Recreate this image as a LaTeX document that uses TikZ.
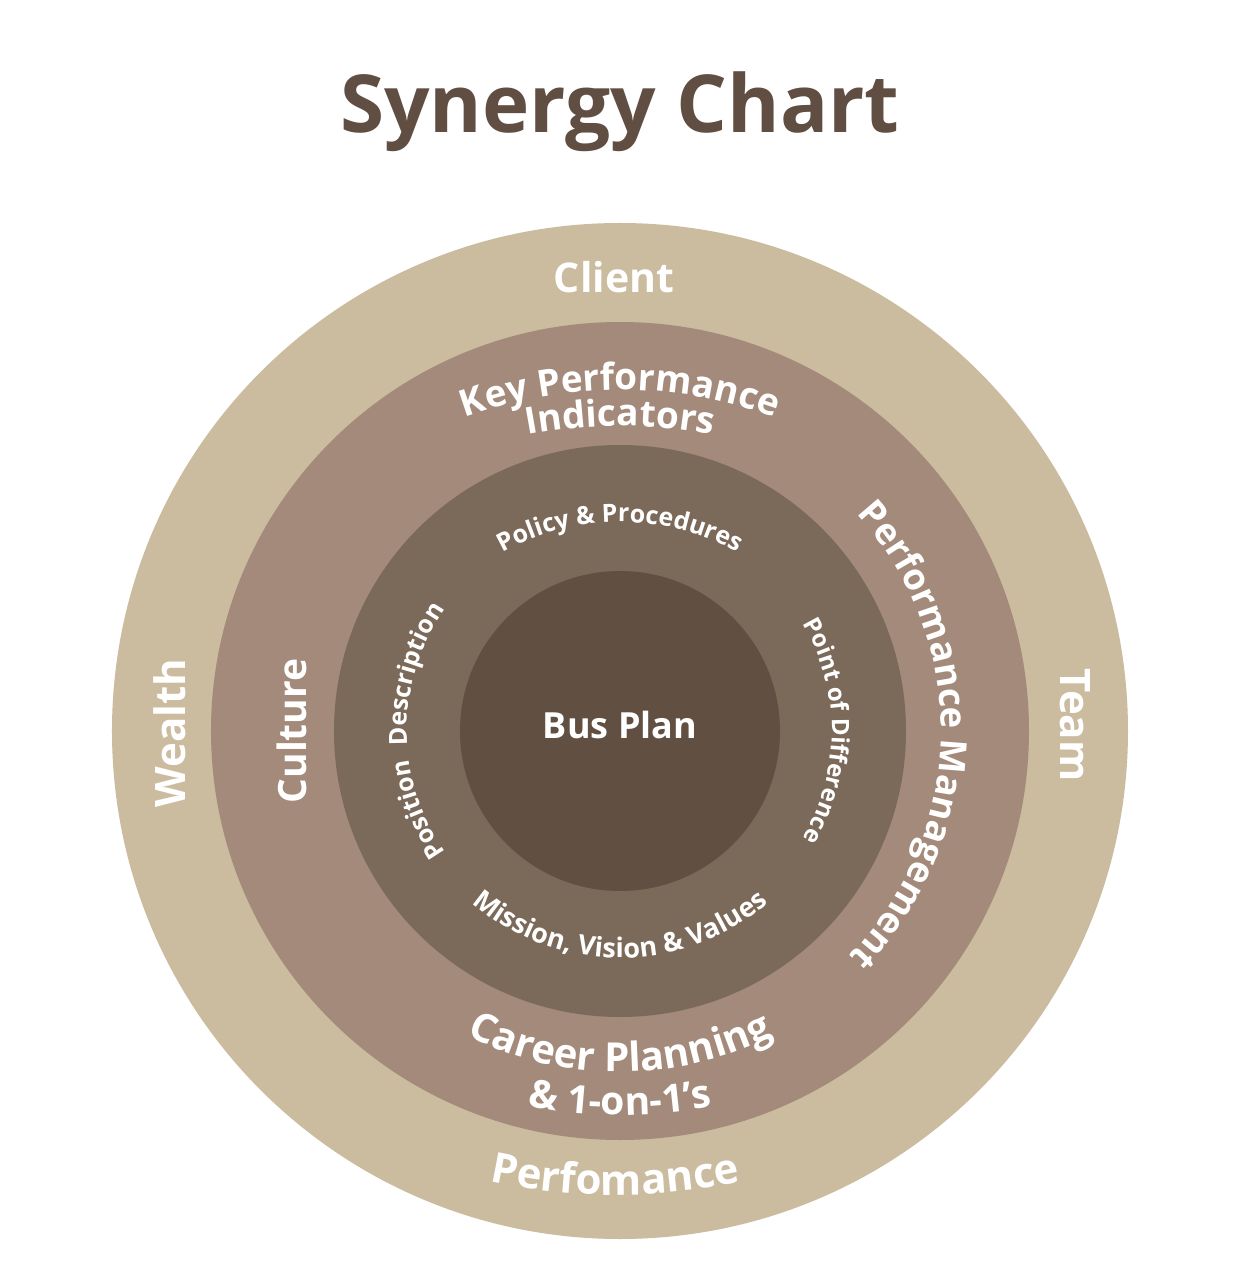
\documentclass[tikz,border=0pt]{standalone}
\usepackage{fontspec}
\setmainfont{Open Sans}
\usetikzlibrary{decorations.text}
\definecolor{ringA}{HTML}{CBBB9F}
\definecolor{ringB}{HTML}{A38A7A}
\definecolor{ringC}{HTML}{7B6959}
\definecolor{ringD}{HTML}{614F42}
\definecolor{titlecol}{HTML}{614E42}
\newcommand\ringtext[6]{%
  \path[decorate,decoration={text along path,text align=center,
    text={|\fontsize{#5}{#5}\selectfont\bfseries\color{white}|#6}}]
    (#1) ++(#3:#2) arc[start angle=#3,end angle=#4,radius=#2];}
\tikzset{
  disc/.style={circle,inner sep=0pt,outer sep=0pt,draw=none},
  bigword/.style={text=white,inner sep=0pt,font=\fontsize{42}{42}\selectfont\bfseries},
  midword/.style={text=white,inner sep=0pt,font=\fontsize{39}{39}\selectfont\bfseries}
}
\begin{document}
\begin{tikzpicture}[x=1pt,y=1pt]
\useasboundingbox (-620,-549) rectangle (621,731);
\fill[white] (-620,-549) rectangle (621,731);
\node[anchor=base,text=titlecol,inner sep=0pt,font=\fontsize{80}{80}\selectfont\bfseries] (title) at (0,598) {Synergy Chart};
\node[disc,fill=ringA,minimum size=1016pt] (outer) at (0,0) {};
\node[disc,fill=ringB,minimum size=818pt] (middle) at (0,0) {};
\node[disc,fill=ringC,minimum size=572pt] (inner) at (0,0) {};
\node[disc,fill=ringD,minimum size=320pt] (core) at (0,0) {};
\node[anchor=base,text=white,inner sep=0pt,font=\fontsize{36}{36}\selectfont\bfseries] (bus) at (0,-7) {Bus Plan};
% outer ring
\node[anchor=base,text=white,inner sep=0pt,font=\fontsize{41}{41}\selectfont\bfseries] (client) at (-6,438) {Client};
\node[bigword,rotate=90] (wealth) at (-450,-2) {Wealth};
\node[bigword,rotate=-90] (team) at (455,6) {Team};
\ringtext{-5,136}{600pt}{245}{295}{42}{Perfomance}
% middle ring
\ringtext{0,-109}{450pt}{130}{50}{37}{Key Performance}
\ringtext{0,-195}{500pt}{115}{65}{37}{Indicators}
\ringtext{0,0}{321pt}{59}{-61}{36.5}{Performance Management}
\ringtext{0,0}{341pt}{230}{310}{40}{Career Planning}
\ringtext{0,116}{500pt}{245}{295}{39}{{\&} 1-on-1{'}s}
\node[midword,rotate=90] (culture) at (-328,0) {Culture};
% inner ring
\ringtext{0,-31}{240pt}{135}{45}{25}{Policy {\&} Procedures}
\ringtext{0,0}{227pt}{215}{325}{27}{Mission, Vision {\&} Values}
\ringtext{0,0}{213pt}{235}{125}{25}{Position{\kern14pt}Description}
\ringtext{0,0}{212pt}{50}{-50}{24}{Point of Difference}
\end{tikzpicture}
\end{document}
